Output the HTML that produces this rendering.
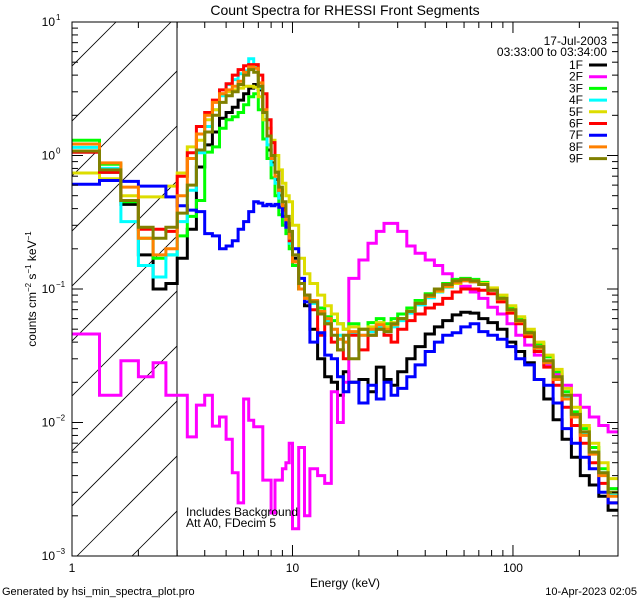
<!DOCTYPE html>
<html><head><meta charset="utf-8"><style>
html,body{margin:0;padding:0;background:#fff;}
svg{display:block;font-family:"Liberation Sans",sans-serif;}
</style></head><body>
<svg id="chart" width="640" height="600" viewBox="0 0 640 600" xmlns="http://www.w3.org/2000/svg">
<defs><clipPath id="plotclip"><rect x="72" y="22" width="546" height="534"/></clipPath>
<clipPath id="hatchclip"><rect x="72" y="22" width="105" height="534"/></clipPath></defs>
<rect width="640" height="600" fill="#fff"/>
<text x="345" y="15" font-size="14" text-anchor="middle">Count Spectra for RHESSI Front Segments</text>
<g id="hatch" clip-path="url(#hatchclip)"></g>
<line x1="177" y1="22" x2="177" y2="556" stroke="#000" stroke-width="1"/>
<g id="series" clip-path="url(#plotclip)"></g>
<rect x="72" y="22" width="546" height="534" fill="none" stroke="#000" stroke-width="1"/>
<g id="ticks"></g>
<text x="345" y="587" font-size="12" text-anchor="middle">Energy (keV)</text>
<text transform="translate(36,289) rotate(-90)" font-size="12" text-anchor="middle">counts cm<tspan font-size="8" dy="-5">−2</tspan><tspan dy="5"> s</tspan><tspan font-size="8" dy="-5">−1</tspan><tspan dy="5"> keV</tspan><tspan font-size="8" dy="-5">−1</tspan></text>
<text x="186" y="516" font-size="12">Includes Background</text>
<text x="186" y="527" font-size="12">Att A0, FDecim 5</text>
<text x="607" y="45" font-size="12" text-anchor="end">17-Jul-2003</text>
<text x="607" y="56" font-size="12" text-anchor="end">03:33:00 to 03:34:00</text>
<g id="legend"></g>
<text x="2" y="595" font-size="11">Generated by hsi_min_spectra_plot.pro</text>
<text x="637" y="595" font-size="11" text-anchor="end">10-Apr-2023 02:05</text>
</svg>
<script>
const edges=[1,1.333,1.667,2,2.333,2.667,3,3.333,3.667,4,4.333,4.667,5,5.333,5.667,6,6.333,6.667,7,7.333,7.667,8,8.333,8.667,9,9.333,9.667,10,10.667,11.333,12,13,14,15,16,17,18,20,22,24,26,28,30,33,36,40,44,48,53,58,64,70,77,85,94,103,113,125,138,152,167,184,202,222,245,270,299];
const seriesNames=["1F","2F","3F","4F","5F","6F","7F","8F","9F"];
const seriesColors=["#000000","#ff00ff","#00ff00","#00ffff","#dddd00","#ff0000","#0000ff","#ff8000","#808000"];
const s1F=[1.06,0.75,0.43,0.18,0.1,0.11,0.17,0.28,0.82,1.2,1.5,1.9,2.1,2.3,2.6,2.9,3.2,3.4,3.1,1.85,1.1,0.88,0.66,0.5,0.41,0.31,0.23,0.17,0.1,0.075,0.05,0.03,0.022,0.02,0.016,0.024,0.02,0.021,0.017,0.026,0.021,0.019,0.024,0.03,0.037,0.046,0.052,0.058,0.064,0.067,0.066,0.06,0.056,0.05,0.04,0.034,0.028,0.021,0.015,0.0105,0.0075,0.0055,0.004,0.0034,0.0028,0.0022];
const s2F=[0.046,0.016,0.029,0.022,0.028,0.016,0.016,0.0078,0.0135,0.016,0.0094,0.011,0.0075,0.0042,0.0025,0.015,0.0104,0.0093,0.0093,0.0037,0.0037,0.0021,0.0037,0.0037,0.0045,0.005,0.007,0.0016,0.0065,0.002,0.0045,0.004,0.0035,0.017,0.01,0.02,0.12,0.165,0.22,0.27,0.31,0.31,0.27,0.21,0.185,0.165,0.15,0.13,0.115,0.105,0.095,0.085,0.073,0.065,0.055,0.045,0.038,0.032,0.027,0.023,0.019,0.016,0.013,0.011,0.0095,0.0085];
const s3F=[1.3,0.86,0.45,0.24,0.17,0.18,0.25,0.35,0.46,1.06,1.16,1.6,1.85,1.95,2.1,2.4,2.75,2.9,2.2,1.33,0.95,0.68,0.5,0.36,0.3,0.26,0.2,0.15,0.1,0.085,0.08,0.072,0.062,0.058,0.055,0.05,0.055,0.05,0.056,0.06,0.055,0.06,0.065,0.072,0.082,0.092,0.1,0.11,0.118,0.12,0.118,0.112,0.1,0.088,0.072,0.06,0.048,0.039,0.031,0.024,0.017,0.012,0.009,0.0065,0.0045,0.0032];
const s4F=[1.15,0.8,0.32,0.15,0.123,0.18,0.32,0.55,1.05,1.65,2.2,2.8,3.4,3.7,4.1,4.3,5.3,4.6,3.2,1.85,1.2,0.85,0.62,0.48,0.37,0.29,0.22,0.16,0.11,0.09,0.078,0.065,0.058,0.05,0.045,0.04,0.047,0.045,0.048,0.052,0.048,0.052,0.058,0.066,0.076,0.086,0.095,0.103,0.11,0.116,0.113,0.108,0.098,0.083,0.069,0.057,0.046,0.036,0.028,0.021,0.0155,0.011,0.0082,0.006,0.0042,0.0029];
const s5F=[0.74,0.67,0.5,0.49,0.49,0.59,0.74,1.16,1.3,1.85,2.2,2.9,3.0,3.1,3.2,3.3,3.3,3.25,2.75,1.85,1.6,1.3,1.0,0.78,0.62,0.5,0.45,0.3,0.17,0.13,0.11,0.09,0.075,0.065,0.055,0.05,0.052,0.05,0.052,0.056,0.052,0.056,0.06,0.068,0.078,0.088,0.096,0.104,0.11,0.116,0.115,0.11,0.102,0.09,0.075,0.062,0.05,0.04,0.032,0.025,0.018,0.013,0.0095,0.007,0.005,0.0038];
const s6F=[1.06,0.75,0.46,0.28,0.28,0.27,0.7,1.05,1.65,2.1,2.6,3.1,3.45,4.0,4.4,4.7,4.8,4.8,4.0,2.9,1.85,1.25,0.75,0.55,0.39,0.31,0.23,0.16,0.11,0.09,0.07,0.045,0.055,0.04,0.035,0.03,0.045,0.035,0.045,0.05,0.045,0.04,0.05,0.058,0.065,0.072,0.077,0.085,0.095,0.1,0.1,0.098,0.092,0.08,0.066,0.055,0.044,0.034,0.026,0.019,0.013,0.0095,0.007,0.005,0.0035,0.0025];
const s7F=[0.61,0.65,0.64,0.59,0.59,0.49,0.42,0.39,0.38,0.26,0.25,0.2,0.21,0.23,0.28,0.32,0.38,0.45,0.44,0.42,0.43,0.42,0.43,0.41,0.35,0.29,0.24,0.2,0.12,0.08,0.04,0.047,0.032,0.03,0.022,0.017,0.02,0.014,0.019,0.015,0.02,0.016,0.018,0.022,0.027,0.034,0.04,0.045,0.047,0.052,0.055,0.048,0.045,0.042,0.037,0.03,0.027,0.021,0.019,0.014,0.009,0.007,0.0055,0.0045,0.003,0.0025];
const s8F=[1.22,0.88,0.58,0.24,0.18,0.2,0.5,0.95,1.45,2.0,2.5,2.9,3.1,3.3,3.6,4.2,4.6,4.5,3.5,2.2,1.4,0.95,0.7,0.55,0.42,0.33,0.24,0.16,0.1,0.085,0.082,0.068,0.06,0.05,0.042,0.04,0.048,0.045,0.05,0.054,0.05,0.054,0.06,0.068,0.078,0.088,0.097,0.105,0.112,0.115,0.113,0.108,0.098,0.084,0.069,0.057,0.046,0.036,0.028,0.021,0.015,0.011,0.008,0.0058,0.004,0.0028];
const s9F=[1.08,0.78,0.46,0.29,0.24,0.29,0.37,0.6,1.1,1.5,2.0,2.5,2.8,3.0,3.4,4.0,4.4,4.2,3.3,2.1,1.4,1.0,0.75,0.58,0.45,0.35,0.27,0.18,0.11,0.09,0.08,0.065,0.055,0.045,0.035,0.045,0.03,0.05,0.045,0.05,0.048,0.055,0.06,0.068,0.078,0.09,0.1,0.108,0.115,0.118,0.115,0.108,0.098,0.085,0.07,0.058,0.047,0.037,0.029,0.022,0.016,0.0115,0.0085,0.006,0.0042,0.003];
const seriesValues=[s1F,s2F,s3F,s4F,s5F,s6F,s7F,s8F,s9F];
const xTickLabels=["1","10","100"];
const yTickExps=["1","0","−1","−2","−3"];

const NS="http://www.w3.org/2000/svg";
const X0=72,X1=618,Y0=22,Y1=556;
const xMinL=0,xMaxL=Math.log10(299.5);
function xs(e){return X0+(Math.log10(e)-xMinL)/(xMaxL-xMinL)*(X1-X0);}
function ys(v){return Y0+(1-Math.log10(v))/4*(Y1-Y0);}
function mk(tag,attrs,parent){const el=document.createElementNS(NS,tag);for(const k in attrs)el.setAttribute(k,attrs[k]);parent.appendChild(el);return el;}

// hatch
const hg=document.getElementById('hatch');
for(let b=-600;b<200;b+=55){
  const l=mk('line',{x1:72+b,y1:556,x2:72+b+600,y2:-44,stroke:'#000','stroke-width':0.8},hg);
  
  
}

// series
const sg=document.getElementById('series');
seriesValues.forEach((vals,si)=>{
  let d='';
  for(let i=0;i<vals.length;i++){
    const y=ys(vals[i]).toFixed(1);
    const xa=xs(edges[i]).toFixed(1),xb=xs(edges[i+1]).toFixed(1);
    d+=(i===0?'M':'L')+xa+','+y+'L'+xb+','+y;
  }
  const p=mk('path',{d:d,fill:'none',stroke:seriesColors[si],'stroke-width':3,'stroke-linejoin':'miter'},sg);
  
  
});

// ticks
const tg=document.getElementById('ticks');
for(let dec=0;dec<=2;dec++){
  for(let m=1;m<=9;m++){
    const e=m*Math.pow(10,dec); if(e>299.5) break;
    const x=xs(e); const len=m===1?11:6;
    const t1=mk('line',{x1:x,y1:Y1,x2:x,y2:Y1-len,stroke:'#000'},tg);
    
    
    const t2=mk('line',{x1:x,y1:Y0,x2:x,y2:Y0+len,stroke:'#000'},tg);
    
    
  }
}
xTickLabels.forEach((lab,i)=>{
  const t=mk('text',{x:xs(Math.pow(10,i)),y:572,'font-size':12,'text-anchor':'middle'},tg);
  t.textContent=lab;
  
  
});
for(let dec=-3;dec<=0;dec++){
  for(let m=1;m<=9;m++){
    const v=m*Math.pow(10,dec); const y=ys(v); const len=m===1?11:6;
    const a=mk('line',{x1:X0,y1:y,x2:X0+len,y2:y,stroke:'#000'},tg);
    
    
    const b=mk('line',{x1:X1,y1:y,x2:X1-len,y2:y,stroke:'#000'},tg);
    
    
  }
}
yTickExps.forEach((ex,i)=>{
  const y=ys(Math.pow(10,1-i));
  const t=mk('text',{x:55,y:y+4,'font-size':12,'text-anchor':'end'},tg);
  t.textContent='10';
  
  
  const s=mk('text',{x:56,y:y-2,'font-size':8},tg);
  s.textContent=ex;
  
  
});

// legend
const lg=document.getElementById('legend');
seriesNames.forEach((n,i)=>{
  const y=65+i*11.7;
  const t=mk('text',{x:583,y:y+4,'font-size':12,'text-anchor':'end'},lg);
  t.textContent=n;
  
  
  const l=mk('line',{x1:589,y1:y,x2:607,y2:y,stroke:seriesColors[i],'stroke-width':3},lg);
  
  
});
</script>
</body></html>
